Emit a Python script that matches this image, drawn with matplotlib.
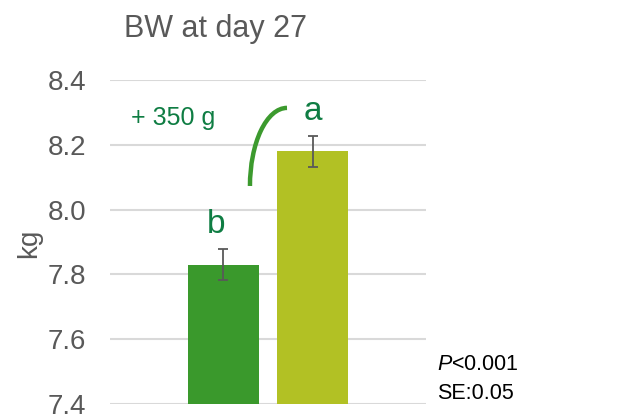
import matplotlib
matplotlib.use("Agg")
import matplotlib.pyplot as plt
from matplotlib.patches import Arc

plt.rcParams['font.family'] = ['Liberation Sans', 'DejaVu Sans']
plt.rcParams['mathtext.fontset'] = 'custom'
plt.rcParams['mathtext.rm'] = 'Liberation Sans'
plt.rcParams['mathtext.it'] = 'Liberation Sans:italic'

# data
groups = ["b", "a"]
bw = [7.83, 8.18]
err = [0.047, 0.047]
colors = ["#3a992c", "#b2c124"]
yticks = [7.4, 7.6, 7.8, 8.0, 8.2, 8.4]

grey = "#595959"
txt_green = "#0f7d43"

fig = plt.figure(figsize=(6.2, 4.18), dpi=100)
ax = fig.add_axes([0.1774, 0.0335, 0.5097, 0.775])

x = range(len(bw))
ax.bar(x, [v - 7.4 for v in bw], bottom=7.4, width=0.793, color=colors, zorder=2)
ax.errorbar(x, bw, yerr=err, fmt='none', ecolor=grey, elinewidth=1.3,
            capsize=3.8, capthick=1.3, zorder=3)

ax.set_xlim(-1.268, 2.263)
ax.set_ylim(7.4, 8.4)
ax.set_yticks(yticks)
ax.set_yticklabels(["%.1f" % t for t in yticks])
ax.set_xticks([])
ax.grid(axis='y', color="#d9d9d9", lw=1.5, zorder=0)
for s in ax.spines.values():
    s.set_visible(False)
ax.tick_params(axis='y', length=0, pad=17, labelsize=20, labelcolor=grey)

# letters over bars
ax.text(-0.08, 7.928, groups[0], ha='center', va='baseline', fontsize=24, color=txt_green)
ax.text(1.0, 8.277, groups[1], ha='center', va='baseline', fontsize=24, color=txt_green)
ax.text(-0.558, 8.261, "+ 350 g", ha='center', va='baseline', fontsize=18, color=txt_green)

# curved connector
arc = Arc((0.710, 8.073), 0.828, 0.482, theta1=90, theta2=180,
          color="#3c9a2e", lw=3.2, zorder=4)
ax.add_patch(arc)

fig.text(215 / 620, 0.9115, "BW at day 27", ha='center', va='baseline',
         fontsize=22, color=grey)
fig.text(29 / 620, 0.4187, "kg", ha='center', va='center', rotation=90,
         fontsize=20, color=grey)
fig.text(0.705, 0.115, r"$\mathit{P}$<0.001", ha='left', va='baseline',
         fontsize=15.5, color="black")
fig.text(0.705, 0.0455, "SE:0.05", ha='left', va='baseline',
         fontsize=15.5, color="black")

fig.savefig("out.png", dpi=100)
